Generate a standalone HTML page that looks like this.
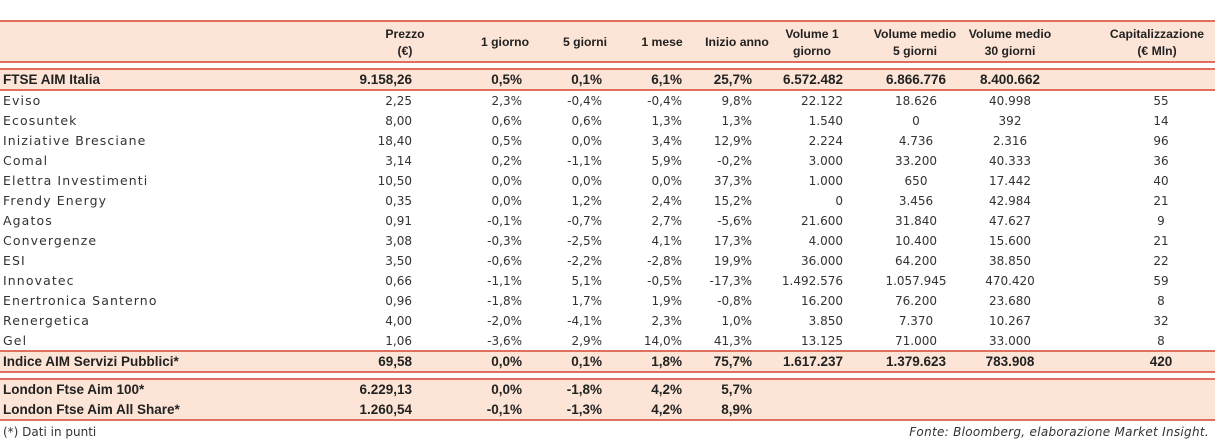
<!DOCTYPE html>
<html><head><meta charset="utf-8">
<style>
body{margin:0;width:1215px;height:443px;background:#fff;overflow:hidden;position:relative;font-family:"DejaVu Sans",sans-serif;color:#333}
.band{position:absolute;left:0;width:1215px;background:#fce5d6}
.ln{position:absolute;left:0;width:1215px;height:2px;background:#df6f60}
.t{position:absolute;font-size:12px;white-space:nowrap;line-height:14px;font-weight:normal}
.lab{font-size:12.5px;letter-spacing:1.1px}
.b{font-family:"Liberation Sans",sans-serif;font-weight:bold;font-size:13.5px;color:#222;letter-spacing:0}
.h{font-family:"Liberation Sans",sans-serif;font-weight:bold;font-size:12.2px;color:#222}
</style></head><body>
<div class="band" style="top:21px;height:41px"></div>
<div class="band" style="top:69px;height:21px"></div>
<div class="band" style="top:351px;height:21px"></div>
<div class="band" style="top:379px;height:41px"></div>
<div class="ln" style="top:20px"></div>
<div class="ln" style="top:61px"></div>
<div class="ln" style="top:68px"></div>
<div class="ln" style="top:89px"></div>
<div class="ln" style="top:350px"></div>
<div class="ln" style="top:371px"></div>
<div class="ln" style="top:378px"></div>
<div class="ln" style="top:419px"></div>
<div class="t" style="left:3px;top:425px">(*) Dati in punti</div>
<div class="t" style="right:6px;top:425px;font-style:italic;letter-spacing:0.3px">Fonte: Bloomberg, elaborazione Market Insight.</div>
<div id="root"></div>
<script>
const headers=[["Prezzo","(€)"],["1 giorno"],["5 giorni"],["1 mese"],["Inizio anno"],["Volume 1","giorno"],["Volume medio","5 giorni"],["Volume medio","30 giorni"],["Capitalizzazione","(€ Mln)"]];
const headerX=[405,505,585,662,737,812,915,1010,1157];
const colX=[412,522,602,682,752,843,916,1010,1161];
const colAlign=["r","r","r","r","r","r","c","c","c"];
const rows=[
["FTSE AIM Italia","9.158,26","0,5%","0,1%","6,1%","25,7%","6.572.482","6.866.776","8.400.662","",1,80],
["Eviso","2,25","2,3%","-0,4%","-0,4%","9,8%","22.122","18.626","40.998","55",0,101],
["Ecosuntek","8,00","0,6%","0,6%","1,3%","1,3%","1.540","0","392","14",0,121],
["Iniziative Bresciane","18,40","0,5%","0,0%","3,4%","12,9%","2.224","4.736","2.316","96",0,141],
["Comal","3,14","0,2%","-1,1%","5,9%","-0,2%","3.000","33.200","40.333","36",0,161],
["Elettra Investimenti","10,50","0,0%","0,0%","0,0%","37,3%","1.000","650","17.442","40",0,181],
["Frendy Energy","0,35","0,0%","1,2%","2,4%","15,2%","0","3.456","42.984","21",0,201],
["Agatos","0,91","-0,1%","-0,7%","2,7%","-5,6%","21.600","31.840","47.627","9",0,221],
["Convergenze","3,08","-0,3%","-2,5%","4,1%","17,3%","4.000","10.400","15.600","21",0,241],
["ESI","3,50","-0,6%","-2,2%","-2,8%","19,9%","36.000","64.200","38.850","22",0,261],
["Innovatec","0,66","-1,1%","5,1%","-0,5%","-17,3%","1.492.576","1.057.945","470.420","59",0,281],
["Enertronica Santerno","0,96","-1,8%","1,7%","1,9%","-0,8%","16.200","76.200","23.680","8",0,301],
["Renergetica","4,00","-2,0%","-4,1%","2,3%","1,0%","3.850","7.370","10.267","32",0,321],
["Gel","1,06","-3,6%","2,9%","14,0%","41,3%","13.125","71.000","33.000","8",0,341],
["Indice AIM Servizi Pubblici*","69,58","0,0%","0,1%","1,8%","75,7%","1.617.237","1.379.623","783.908","420",1,362],
["London Ftse Aim 100*","6.229,13","0,0%","-1,8%","4,2%","5,7%","","","","",1,390],
["London Ftse Aim All Share*","1.260,54","-0,1%","-1,3%","4,2%","8,9%","","","","",1,410]
];
const root=document.getElementById('root');
function mk(txt,x,y,al,cls){
  const d=document.createElement('div');
  d.className='t'+(cls?' '+cls:'');
  d.textContent=txt;
  d.style.top=(y-7)+'px';
  if(al==='r'){d.style.right=(1215-x)+'px';}
  else if(al==='c'){d.style.left=(x-100)+'px';d.style.width='200px';d.style.textAlign='center';}
  else d.style.left=x+'px';
  root.appendChild(d);return d;
}
headers.forEach((h,i)=>{
  h.forEach((line,j)=>{
    const y=h.length===1?42:(34+j*17);
    const d=mk(line,headerX[i],y,'c','h');
    
    
  });
});
rows.forEach(r=>{
  const cls=r[10]?'b':'',y=r[11];
  const n=mk(r[0],3,y,'l',r[10]?'b':'lab');
  
  
  for(let i=0;i<9;i++){
    if(!r[i+1])continue;
    const c=mk(r[i+1],colX[i],y,colAlign[i],cls);
    
    
  }
});
</script>
</body></html>
